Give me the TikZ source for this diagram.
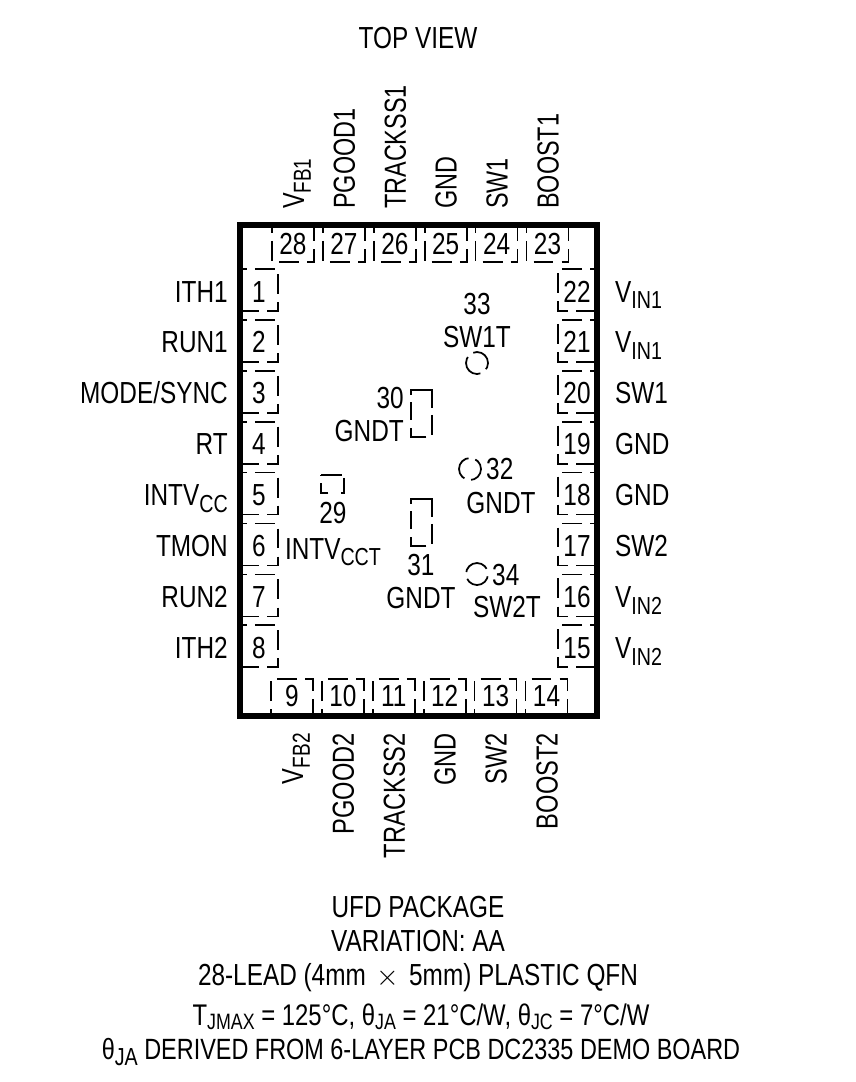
\documentclass[tikz,border=0pt]{standalone}
\usepackage{fontspec}
\setmainfont[FakeStretch=0.8]{Liberation Sans}
\newcommand{\pinsub}[1]{\smash{\raisebox{-0.42ex}{\fontsize{21}{21}\selectfont #1}}}
\newcommand{\capsub}[1]{\smash{\raisebox{-0.3ex}{\fontsize{19}{19}\selectfont #1}}}
\tikzset{
    pad/.style={line width=1.5pt, dash pattern=on 17pt off 7pt, dash phase=13pt},
    expad/.style={line width=1.5pt},
    pinlabel/.style={inner sep=0pt, font=\fontsize{26}{30}\selectfont},
    padnum/.style={inner sep=0pt, font=\fontsize{26}{30}\selectfont},
    title/.style={inner sep=0pt, align=center, font=\fontsize{26}{29}\selectfont}
}
\begin{document}
\begin{tikzpicture}[x=0.03cm, y=-0.03cm]

    % the frame
    \useasboundingbox (0, 0) rectangle (855, 1082);
    \draw[line width=5.4pt] (240, 225) rectangle (597, 716);

    % left side
    \foreach \i/\lab in {1/ITH1, 2/RUN1, 3/MODE\slash SYNC, 4/RT, 5/{INTV\pinsub{CC}}, 6/TMON, 7/RUN2, 8/ITH2} {
        \draw[pad] (242, {290+(\i-1)*50.9-21}) -- (278, {290+(\i-1)*50.9-21}) -- (278, {290+(\i-1)*50.9+21}) -- (242, {290+(\i-1)*50.9+21});
        \node[padnum, anchor=base] (n\i) at (259, {302+(\i-1)*50.9}) {\i};
        \node[pinlabel, anchor=base east] (l\i) at (228, {302+(\i-1)*50.9}) {\lab};
    };

    % right side
    \foreach \i/\lab in {22/{V\pinsub{IN1}}, 21/{V\pinsub{IN1}}, 20/SW1, 19/GND, 18/GND, 17/SW2, 16/{V\pinsub{IN2}}, 15/{V\pinsub{IN2}}} {
        \draw[pad] (595, {290+(22-\i)*50.9-21}) -- (558, {290+(22-\i)*50.9-21}) -- (558, {290+(22-\i)*50.9+21}) -- (595, {290+(22-\i)*50.9+21});
        \node[padnum, anchor=base] (n\i) at (577, {302+(22-\i)*50.9}) {\i};
        \node[pinlabel, anchor=base west] (l\i) at (615, {302+(22-\i)*50.9}) {\lab};
    };

    % top side
    \foreach \i/\lab in {28/{V\pinsub{FB1}}, 27/PGOOD1, 26/TRACKSS1, 25/GND, 24/SW1, 23/BOOST1} {
        \draw[pad] ({293+(28-\i)*50.9-21}, 228) -- ({293+(28-\i)*50.9-21}, 262) -- ({293+(28-\i)*50.9+21}, 262) -- ({293+(28-\i)*50.9+21}, 228);
        \node[padnum, anchor=base] (n\i) at ({293+(28-\i)*50.9}, 254) {\i};
        \node[pinlabel, anchor=base west, rotate=90, xscale=0.96] (l\i) at ({304+(28-\i)*50.9}, 209) {\lab};
    };

    % bottom side
    \foreach \i/\lab in {9/{V\pinsub{FB2}}, 10/PGOOD2, 11/TRACKSS2, 12/GND, 13/SW2, 14/BOOST2} {
        \draw[pad] ({292+(\i-9)*50.9-21}, 714) -- ({292+(\i-9)*50.9-21}, 679) -- ({292+(\i-9)*50.9+21}, 679) -- ({292+(\i-9)*50.9+21}, 714);
        \node[padnum, anchor=base] (n\i) at ({292+(\i-9)*50.9}, 706) {\i};
        \node[pinlabel, anchor=base east, rotate=90, xscale=0.97] (l\i) at ({303+(\i-9)*50.9}, 733) {\lab};
    };

    % exposed pads
    \draw[expad, dash pattern=on 36.5pt off 6pt on 17pt off 6.8pt on 20.4pt off 7.6pt on 15.3pt off 6pt] (411, 394) -- (411, 390) -- (432, 390) -- (432, 437) -- (411, 437) -- cycle;
    \draw[expad, dash pattern=on 36.5pt off 6pt on 17pt off 6.8pt on 20.4pt off 7.6pt on 15.3pt off 6pt] (411, 503) -- (411, 499) -- (432, 499) -- (432, 546) -- (411, 546) -- cycle;
    \draw[expad, dash pattern=on 17.8pt off 4.3pt on 15.3pt off 11pt on 14.5pt off 6.8pt] (321, 475) -- (344, 475) -- (344, 493) -- (321, 493) -- cycle;
    \foreach \x/\y/\p in {477/363/17.3, 470/469/9.3, 477/574/27} {
        \draw[expad, dash pattern=on 23pt off 6pt, dash phase=\p pt] (\x, \y) circle (11);
    };

    % pad labels
    \node[padnum, anchor=base] (n33) at (477, 314) {33};
    \node[pinlabel, anchor=base] (t33) at (477, 347) {SW1T};
    \node[padnum, anchor=base east] (n30) at (404, 408) {30};
    \node[pinlabel, anchor=base east] (t30) at (404, 441) {GNDT};
    \node[padnum, anchor=base] (n29) at (333, 523) {29};
    \node[pinlabel, anchor=base] (t29) at (333, 559) {INTV\pinsub{CCT}};
    \node[padnum, anchor=base] (n31) at (421, 575) {31};
    \node[pinlabel, anchor=base] (t31) at (421, 608) {GNDT};
    \node[padnum, anchor=base west] (n32) at (486, 479) {32};
    \node[pinlabel, anchor=base] (t32) at (501, 513) {GNDT};
    \node[padnum, anchor=base west] (n34) at (492, 585) {34};
    \node[pinlabel, anchor=base] (t34) at (507, 617) {SW2T};

    % captions
    \node[title] (top) at (418, 38) {TOP VIEW};
    \node[title] (pkg) at (418, 944) {UFD PACKAGE\\VARIATION: AA\\28-LEAD (4mm\hspace{3pt} $\times$\hspace{3pt} 5mm) PLASTIC QFN};
    \node[title, anchor=base, font=\fontsize{25.5}{29}\selectfont] (temp) at (421, 1025) {T\capsub{JMAX} = 125°C, θ\capsub{JA} = 21°C/W, θ\capsub{JC} = 7°C/W};
    \node[title, anchor=base, font=\fontsize{25}{29}\selectfont] (board) at (421, 1059) {θ\pinsub{JA} DERIVED FROM 6-LAYER PCB DC2335 DEMO BOARD};

\end{tikzpicture}
\end{document}
